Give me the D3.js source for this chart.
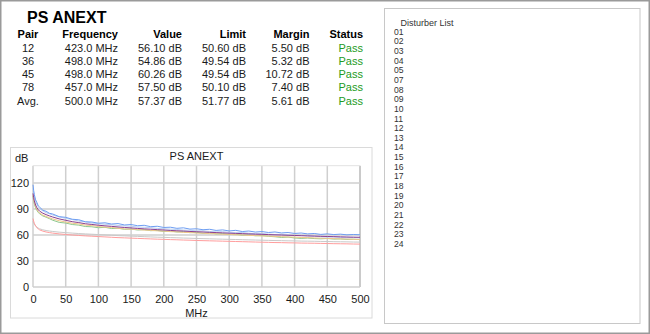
<!DOCTYPE html>
<html>
<head>
<meta charset="utf-8">
<script src="https://cdn.jsdelivr.net/npm/d3@7"></script>
<style>
    html, body { margin: 0; padding: 0; background: #fff; }
    svg { display: block; font-family: "Liberation Sans", Arial, sans-serif; }
</style>
</head>
<body>
<svg id="chart" width="650" height="334"></svg>
<script>
// summary table
const pairs = ['12', '36', '45', '78', 'Avg.'];
const worstFreq = [423.0, 498.0, 498.0, 457.0, 500.0];
const worstValue = [56.10, 54.86, 60.26, 57.50, 57.37];
const worstLimit = [50.60, 49.54, 49.54, 50.10, 51.77];
const worstMargin = [5.50, 5.32, 10.72, 7.40, 5.61];
const status = ['Pass', 'Pass', 'Pass', 'Pass', 'Pass'];

const disturbers = ['01', '02', '03', '04', '05', '07', '08', '09', '10', '11', '12', '13',
    '14', '15', '16', '17', '18', '19', '20', '21', '22', '23', '24'];

// sweep (MHz)
const freq = [0, 1, 2, 4, 6, 8, 10, 15, 20, 25, 30,
    40, 50, 60, 70, 80, 90, 100, 110, 120, 130,
    140, 150, 160, 170, 180, 190, 200, 210, 220, 230,
    240, 250, 260, 270, 280, 290, 300, 310, 320, 330,
    340, 350, 360, 370, 380, 390, 400, 410, 420, 430,
    440, 450, 460, 470, 480, 490, 500];

const pair12 = [105, 99.8, 96.1, 91.2, 88.3, 86.0, 84.7, 82.0, 80.6, 78.9, 77.1,
    74.6, 73.8, 72.1, 71.4, 69.8, 69.5, 68.4, 68.9, 67.5, 67.8,
    66.6, 66.9, 65.8, 66.2, 65.0, 65.3, 64.1, 64.6, 63.5, 63.8,
    62.7, 63.1, 62.0, 62.4, 61.3, 61.6, 60.5, 60.9, 59.8, 60.1,
    59.1, 59.4, 58.5, 58.0, 57.2, 57.6, 56.6, 56.1, 56.5, 55.9,
    55.6, 56.0, 55.3, 55.5, 54.9, 55.2, 54.7];
const pair36 = [106, 101.0, 97.2, 92.5, 89.4, 87.1, 85.5, 83.0, 81.4, 80.0, 78.6,
    76.5, 75.0, 73.6, 72.8, 71.4, 70.9, 69.8, 69.1, 68.7, 67.8,
    67.0, 66.7, 66.4, 65.7, 65.4, 64.8, 64.5, 63.9, 63.7, 63.0,
    62.9, 62.3, 62.1, 61.6, 61.5, 60.9, 60.8, 60.2, 60.1, 59.5,
    59.4, 58.9, 58.8, 58.3, 58.1, 57.7, 57.6, 57.1, 57.0, 56.6,
    56.4, 56.0, 55.9, 55.5, 55.4, 55.0, 54.9];
const pair45 = [118, 111.5, 106.8, 100.6, 97.4, 93.8, 92.3, 88.6, 87.4, 85.1, 84.3,
    81.2, 80.4, 78.2, 77.6, 75.3, 75.0, 73.6, 74.1, 72.7, 73.2,
    71.6, 72.1, 70.7, 71.2, 69.6, 70.1, 68.7, 69.0, 67.7, 68.3,
    66.8, 67.2, 66.1, 66.6, 65.3, 65.9, 64.7, 65.4, 64.0, 64.6,
    63.4, 64.0, 62.9, 63.5, 62.4, 62.9, 61.8, 62.3, 61.3, 61.8,
    60.7, 61.3, 60.5, 61.0, 60.2, 60.6, 60.3];
const pair78 = [114, 108.5, 104.2, 98.8, 95.1, 92.6, 90.4, 87.9, 85.8, 84.6, 83.1,
    80.9, 79.2, 77.8, 76.1, 75.2, 73.9, 73.1, 72.4, 71.9, 71.0,
    70.6, 70.1, 69.2, 68.9, 68.5, 67.6, 67.3, 66.8, 66.4, 65.7,
    65.5, 64.8, 64.9, 64.1, 63.6, 63.9, 63.0, 62.6, 62.9, 62.1,
    61.5, 61.8, 61.0, 60.6, 60.9, 60.1, 59.4, 59.8, 58.9, 58.5,
    58.0, 57.6, 57.8, 57.2, 56.9, 57.3, 56.6];
const pairAvg = [108, 103.2, 99.5, 94.6, 91.4, 89.2, 87.6, 85.2, 83.5, 82.1, 80.8,
    78.6, 77.0, 75.4, 74.3, 73.0, 72.2, 71.3, 70.6, 70.0, 69.3,
    68.7, 68.2, 67.6, 67.1, 66.7, 66.2, 65.8, 65.3, 64.9, 64.6,
    64.1, 63.8, 63.5, 63.1, 62.8, 62.5, 62.1, 61.9, 61.6, 61.3,
    61.0, 60.8, 60.5, 60.2, 60.0, 59.7, 59.5, 59.2, 59.0, 58.8,
    58.5, 58.3, 58.1, 57.9, 57.7, 57.5, 57.4];
const limitPair = [79, 76, 73.5, 70.5, 68.5, 67, 66, 64.5, 63.5, 62.8, 62.2,
    61.3, 60.6, 60.0, 59.5, 59.0, 58.6, 58.2, 57.8, 57.4, 57.0,
    56.7, 56.4, 56.1, 55.8, 55.5, 55.2, 55.0, 54.7, 54.5, 54.2,
    54.0, 53.7, 53.5, 53.3, 53.1, 52.9, 52.7, 52.5, 52.3, 52.1,
    51.9, 51.7, 51.5, 51.3, 51.2, 51.0, 50.9, 50.7, 50.6, 50.5,
    50.3, 50.2, 50.0, 49.9, 49.8, 49.6, 49.5];
const limitAvg = [76, 74, 72.5, 70.5, 69, 68, 67.2, 66, 65.2, 64.6, 64.1,
    63.3, 62.7, 62.2, 61.7, 61.3, 60.9, 60.5, 60.1, 59.7, 59.3,
    59.0, 58.7, 58.4, 58.1, 57.8, 57.5, 57.3, 57.0, 56.8, 56.5,
    56.3, 56.0, 55.8, 55.6, 55.4, 55.2, 55.0, 54.8, 54.6, 54.4,
    54.2, 54.0, 53.8, 53.6, 53.5, 53.3, 53.2, 53.0, 52.9, 52.8,
    52.6, 52.5, 52.3, 52.2, 52.1, 51.9, 51.8];

const xTicks = [0, 50, 100, 150, 200, 250, 300, 350, 400, 450, 500];
const yTicks = [0, 30, 60, 90, 120];

const GRID_COLOR = '#cfcfcf';
const TEXT_COLOR = '#1a1a1a';

const series = [
    {values: limitAvg, color: '#c9c9c9'},
    {values: limitPair, color: '#ff9d9d'},
    {values: pair12, color: '#8dc88d'},
    {values: pair36, color: '#efc68a'},
    {values: pair78, color: '#b9cff3'},
    {values: pair45, color: '#6e9ef2'},
    {values: pairAvg, color: '#8b3f8f'}
];

const svg = d3.select('#chart');

// frames
svg.append('rect')
    .attr('x', 0.75).attr('y', 0.75).attr('width', 648.5).attr('height', 332.5)
    .attr('fill', 'none').attr('stroke', '#9a9a9a').attr('stroke-width', 1.5);
svg.append('rect')
    .attr('x', 384.5).attr('y', 8.5).attr('width', 255.5).attr('height', 315)
    .attr('fill', 'none').attr('stroke', '#c8c8c8');
svg.append('rect')
    .attr('x', 10.5).attr('y', 147.5).attr('width', 361.5).attr('height', 170.5)
    .attr('fill', 'none').attr('stroke', '#dadada');

// summary table
svg.append('text')
    .attr('x', 27).attr('y', 23)
    .attr('font-size', 16).attr('font-weight', 'bold').attr('fill', '#000')
    .text('PS ANEXT');

const columns = [
    {title: 'Pair', x: 28, anchor: 'middle', cell: i => pairs[i]},
    {title: 'Frequency', x: 118, anchor: 'end', cell: i => `${worstFreq[i].toFixed(1)} MHz`},
    {title: 'Value', x: 182, anchor: 'end', cell: i => `${worstValue[i].toFixed(2)} dB`},
    {title: 'Limit', x: 246, anchor: 'end', cell: i => `${worstLimit[i].toFixed(2)} dB`},
    {title: 'Margin', x: 309.5, anchor: 'end', cell: i => `${worstMargin[i].toFixed(2)} dB`},
    {title: 'Status', x: 363, anchor: 'end', cell: i => status[i], color: '#239b23'}
];
const ROW_TOP = 38.3;
const ROW_STEP = 13.25;

const table = svg.append('g').attr('font-size', 11);
columns.forEach(col => {
    table.append('text')
        .attr('x', col.x).attr('y', ROW_TOP)
        .attr('text-anchor', col.anchor)
        .attr('font-weight', 'bold').attr('fill', '#000')
        .text(col.title);
    pairs.forEach((p, i) => {
        table.append('text')
            .attr('x', col.x).attr('y', ROW_TOP + ROW_STEP * (i + 1))
            .attr('text-anchor', col.anchor)
            .attr('fill', col.color || TEXT_COLOR)
            .text(col.cell(i));
    });
});

// disturber list
const list = svg.append('g').attr('fill', '#333');
list.append('text')
    .attr('x', 400.5).attr('y', 26.3)
    .attr('font-size', 9)
    .text('Disturber List');
list.selectAll('.dist')
    .data(disturbers)
    .enter()
    .append('text')
    .attr('class', 'dist')
    .attr('x', 394)
    .attr('y', (d, i) => 34.8 + i * 9.64)
    .attr('font-size', 8.6)
    .text(d => d);

// plot
const x = d3.scaleLinear().domain([0, 500]).range([33, 360]);
const y = d3.scaleLinear().domain([0, 140]).range([287, 165.7]);

const plot = svg.append('g');

plot.append('g')      // vertical grid
    .selectAll('line')
    .data(xTicks)
    .enter()
    .append('line')
    .attr('x1', d => x(d)).attr('x2', d => x(d))
    .attr('y1', y(140)).attr('y2', y(0))
    .attr('stroke', d => d === 500 ? '#b8b8b8' : GRID_COLOR)
    .attr('stroke-width', 1.5);

plot.append('g')      // horizontal grid
    .selectAll('line')
    .data(yTicks.concat([140]))
    .enter()
    .append('line')
    .attr('x1', x(0)).attr('x2', x(500))
    .attr('y1', d => y(d)).attr('y2', d => y(d))
    .attr('stroke', d => d === 140 ? '#e2e2e2' : GRID_COLOR)
    .attr('stroke-width', d => d === 140 ? 1 : 1.5);

const line = d3.line()
    .x((d, i) => x(freq[i]))
    .y(d => y(d));

plot.append('g')
    .attr('class', 'lines')
    .selectAll('path')
    .data(series)
    .enter()
    .append('path')
    .attr('d', s => line(s.values))
    .attr('fill', 'none')
    .attr('stroke', s => s.color)
    .attr('stroke-width', 1)
    .attr('stroke-linejoin', 'round');

const xAxis = plot.append('g')
    .attr('transform', `translate(0,${y(0)})`)
    .call(d3.axisBottom(x).tickValues(xTicks).tickSize(0).tickPadding(8));
const yAxis = plot.append('g')
    .attr('transform', `translate(${x(0)},0)`)
    .call(d3.axisLeft(y).tickValues(yTicks).tickSize(0).tickPadding(4));

[xAxis, yAxis].forEach(ax => {
    ax.select('.domain').remove();
    ax.selectAll('text')
        .attr('font-size', 11)
        .attr('font-family', '"Liberation Sans", Arial, sans-serif')
        .attr('fill', TEXT_COLOR);
});

plot.append('text')
    .attr('x', 15).attr('y', 161.5)
    .attr('font-size', 11).attr('fill', TEXT_COLOR)
    .text('dB');
plot.append('text')
    .attr('x', 196.5).attr('y', 160.3)
    .attr('text-anchor', 'middle')
    .attr('font-size', 11).attr('fill', TEXT_COLOR)
    .text('PS ANEXT');
plot.append('text')
    .attr('x', 196.5).attr('y', 317)
    .attr('text-anchor', 'middle')
    .attr('font-size', 11).attr('fill', TEXT_COLOR)
    .text('MHz');
</script>
</body>
</html>
